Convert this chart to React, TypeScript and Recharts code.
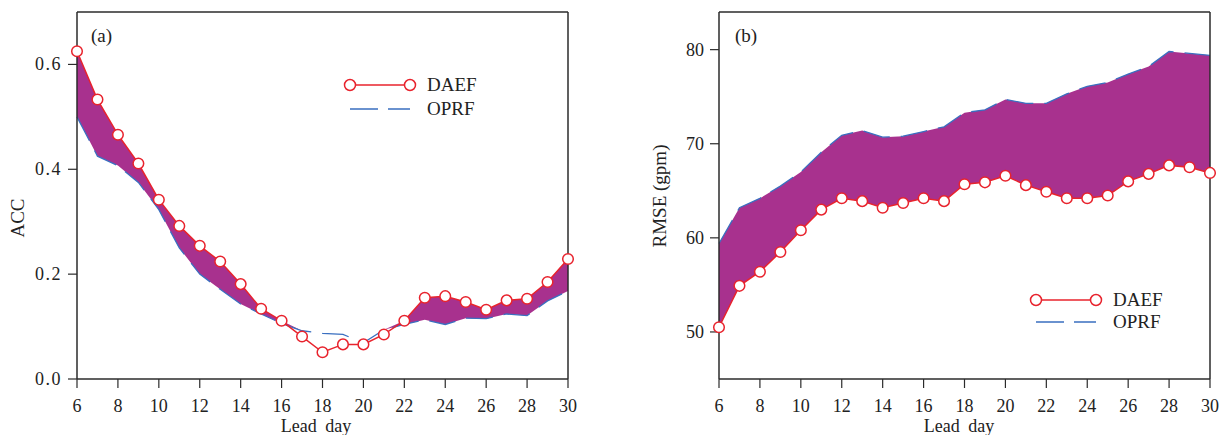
import { ComposedChart, Area, Line, XAxis, YAxis, ReferenceLine } from 'recharts'

const days = [6, 7, 8, 9, 10, 11, 12, 13, 14, 15, 16, 17, 18, 19, 20, 21, 22, 23, 24, 25, 26, 27, 28, 29, 30]
const dayTicks = [6, 8, 10, 12, 14, 16, 18, 20, 22, 24, 26, 28, 30]

const accDaef = [0.625, 0.533, 0.466, 0.411, 0.342, 0.292, 0.254, 0.224, 0.181, 0.134, 0.111, 0.081, 0.051, 0.066, 0.066, 0.085, 0.111, 0.155, 0.158, 0.147, 0.132, 0.15, 0.153, 0.185, 0.229]
const accOprf = [0.5, 0.425, 0.407, 0.375, 0.323, 0.25, 0.2, 0.171, 0.143, 0.124, 0.106, 0.092, 0.087, 0.085, 0.069, 0.094, 0.104, 0.113, 0.104, 0.116, 0.115, 0.124, 0.121, 0.149, 0.168]
const accTicks = [0, 0.2, 0.4, 0.6]

const rmseDaef = [50.5, 54.9, 56.4, 58.5, 60.8, 63.0, 64.2, 63.9, 63.2, 63.7, 64.2, 63.9, 65.7, 65.9, 66.6, 65.6, 64.9, 64.2, 64.2, 64.5, 66.0, 66.8, 67.7, 67.5, 66.9]
const rmseOprf = [59.4, 63.2, 64.2, 65.5, 67.0, 69.1, 70.9, 71.4, 70.7, 70.8, 71.3, 71.8, 73.3, 73.6, 74.7, 74.3, 74.3, 75.3, 76.1, 76.5, 77.4, 78.2, 79.8, 79.6, 79.4]
const rmseTicks = [50, 60, 70, 80]

const FONT = '"Liberation Serif", "Times New Roman", serif'
const RED = '#e8232d'
const BLUE = '#3a6fc0'
const FILL = '#a8318e'
const AXIS = '#2b2b2b'
const TEXT = '#222'

// ACC: shade only where DAEF beats OPRF
const accData = days.map((d, i) => ({
  day: d,
  daef: accDaef[i],
  oprf: accOprf[i],
  band: [accOprf[i], Math.max(accDaef[i], accOprf[i])],
}))

// RMSE: OPRF always worse, shade the whole gap
const rmseData = days.map((d, i) => ({
  day: d,
  daef: rmseDaef[i],
  oprf: rmseOprf[i],
  band: [rmseDaef[i], rmseOprf[i]],
}))

// eslint-disable-next-line @typescript-eslint/no-explicit-any
const XTick = (props: any) => (
  <text x={props.x} y={props.y + 21} textAnchor="middle" fontFamily={FONT} fontSize={18} fill={TEXT}>
    {props.payload.value}
  </text>
)

function makeYTick(fmt: (v: number) => string, spacing: number) {
  // eslint-disable-next-line @typescript-eslint/no-explicit-any
  return (props: any) => (
    <text
      x={props.x}
      y={props.y + 6}
      textAnchor="end"
      fontFamily={FONT}
      fontSize={18}
      fill={TEXT}
      letterSpacing={spacing}
    >
      {fmt(props.payload.value)}
    </text>
  )
}

function LegendBox({ left, top, gap }: { left: number; top: number; gap: number }) {
  const y2 = 12 + gap
  return (
    <svg
      width={160}
      height={y2 + 14}
      style={{ position: 'absolute', left, top, display: 'block' }}
      fontFamily={FONT}
    >
      <line x1={10} y1={12} x2={70} y2={12} stroke={RED} strokeWidth={1.5} />
      <circle cx={10} cy={12} r={5.5} fill="white" stroke={RED} strokeWidth={1.5} />
      <circle cx={70} cy={12} r={5.5} fill="white" stroke={RED} strokeWidth={1.5} />
      <text x={87} y={18} fontSize={19} fill={TEXT}>DAEF</text>
      <line x1={10} y1={y2} x2={70} y2={y2} stroke={BLUE} strokeWidth={1.5} strokeDasharray="28 10" />
      <text x={87} y={y2 + 6} fontSize={19} fill={TEXT}>OPRF</text>
    </svg>
  )
}

interface PanelProps {
  data: typeof accData
  domain: [number, number]
  yTicks: number[]
  fmt: (v: number) => string
  spacing: number
  marginLeft: number
  marginRight: number
}

function Panel({ data, domain, yTicks, fmt, spacing, marginLeft, marginRight }: PanelProps) {
  return (
    <ComposedChart
      width={614}
      height={435}
      data={data}
      margin={{ top: 12, right: marginRight, bottom: 0, left: marginLeft }}
    >
      <XAxis
        dataKey="day"
        type="number"
        domain={[6, 30]}
        ticks={dayTicks}
        height={56}
        tickSize={9}
        tickMargin={3}
        tick={<XTick />}
        axisLine={{ stroke: AXIS, strokeWidth: 1.5 }}
        tickLine={{ stroke: AXIS, strokeWidth: 1.2 }}
      />
      <YAxis
        type="number"
        domain={domain}
        ticks={yTicks}
        width={69}
        tickSize={9}
        tickMargin={6}
        tick={makeYTick(fmt, spacing)}
        axisLine={{ stroke: AXIS, strokeWidth: 1.5 }}
        tickLine={{ stroke: AXIS, strokeWidth: 1.2 }}
      />
      <Area
        type="linear"
        dataKey="band"
        stroke="none"
        fill={FILL}
        fillOpacity={1}
        legendType="none"
        activeDot={false}
        isAnimationActive={false}
      />
      <Line
        type="linear"
        dataKey="oprf"
        name="OPRF"
        stroke={BLUE}
        strokeWidth={1.3}
        strokeDasharray="27 11"
        dot={false}
        activeDot={false}
        isAnimationActive={false}
      />
      <Line
        type="linear"
        dataKey="daef"
        name="DAEF"
        stroke={RED}
        strokeWidth={1.5}
        dot={{ r: 5.3, fill: 'white', stroke: RED, strokeWidth: 1.5 }}
        activeDot={false}
        isAnimationActive={false}
      />
      {/* close the box: top and right frame */}
      <ReferenceLine y={domain[1]} stroke={AXIS} strokeWidth={1.5} />
      <ReferenceLine x={30} stroke={AXIS} strokeWidth={1.5} />
    </ComposedChart>
  )
}

export default function App() {
  return (
    <div
      style={{
        position: 'absolute',
        left: 0,
        top: 0,
        width: 1228,
        height: 435,
        background: 'white',
        fontFamily: FONT,
      }}
    >
      <div style={{ position: 'absolute', left: 0, top: 0 }}>
        <Panel
          data={accData}
          domain={[0, 0.7]}
          yTicks={accTicks}
          fmt={(v) => v.toFixed(1)}
          spacing={1.5}
          marginLeft={8}
          marginRight={46}
        />
      </div>
      <div style={{ position: 'absolute', left: 614, top: 0 }}>
        <Panel
          data={rmseData}
          domain={[45, 84]}
          yTicks={rmseTicks}
          fmt={(v) => String(v)}
          spacing={0}
          marginLeft={36}
          marginRight={18}
        />
      </div>
      <LegendBox left={340} top={73} gap={24} />
      <LegendBox left={1026} top={288} gap={22} />
      <svg
        width={1228}
        height={435}
        style={{ position: 'absolute', left: 0, top: 0, pointerEvents: 'none' }}
        fontFamily={FONT}
        fill={TEXT}
      >
        <text x={91} y={42} fontSize={19}>(a)</text>
        <text x={735} y={42} fontSize={19}>(b)</text>
        <text x={316} y={432} fontSize={18} textAnchor="middle" wordSpacing={4}>Lead day</text>
        <text x={959} y={432} fontSize={18} textAnchor="middle" wordSpacing={4}>Lead day</text>
        <text transform="translate(24 218) rotate(-90)" fontSize={19} textAnchor="middle">ACC</text>
        <text transform="translate(666 196) rotate(-90)" fontSize={19} textAnchor="middle">RMSE (gpm)</text>
      </svg>
    </div>
  )
}
